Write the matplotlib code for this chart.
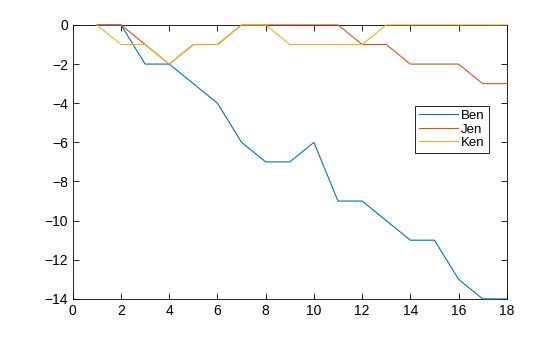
import matplotlib.pyplot as plt

# data
x = list(range(1, 19))
ben = [0, 0, -2, -2, -3, -4, -6, -7, -7, -6, -9, -9, -10, -11, -11, -13, -14, -14]
jen = [0, 0, -1, -2, -1, -1, 0, 0, 0, 0, 0, -1, -1, -2, -2, -2, -3, -3]
ken = [0, -1, -1, -2, -1, -1, 0, 0, -1, -1, -1, -1, 0, 0, 0, 0, 0, 0]

plt.rcParams['font.family'] = ['Liberation Sans', 'DejaVu Sans']

fig = plt.figure(figsize=(5.6, 3.37), dpi=100)
ax = fig.add_axes([0.13, 0.113, 0.775, 0.813])

ax.plot(x, ben, color='#0072BD', lw=0.8, label='Ben', clip_on=False, zorder=3)
ax.plot(x, jen, color='#D95319', lw=0.8, label='Jen', clip_on=False, zorder=3)
ax.plot(x, ken, color='#EDB120', lw=0.8, label='Ken', clip_on=False, zorder=3)

ax.set_xlim(0, 18)
ax.set_ylim(-14, 0)
ax.set_xticks(range(0, 19, 2))
ax.set_yticks(range(-14, 1, 2))
ax.tick_params(direction='in', top=True, right=True, labelsize=10, length=4, width=0.6)
for s in ax.spines.values():
    s.set_linewidth(0.6)
    s.set_zorder(2)

leg = ax.legend(loc='upper left', bbox_to_anchor=(0.788, 0.705), fontsize=9.5,
                fancybox=False, edgecolor='black', framealpha=1,
                handlelength=3.0, handletextpad=0.2, borderpad=0.3,
                labelspacing=0.1, borderaxespad=0)
leg.get_frame().set_linewidth(0.6)
leg.set_zorder(5)

fig.savefig('out.png', dpi=100)
